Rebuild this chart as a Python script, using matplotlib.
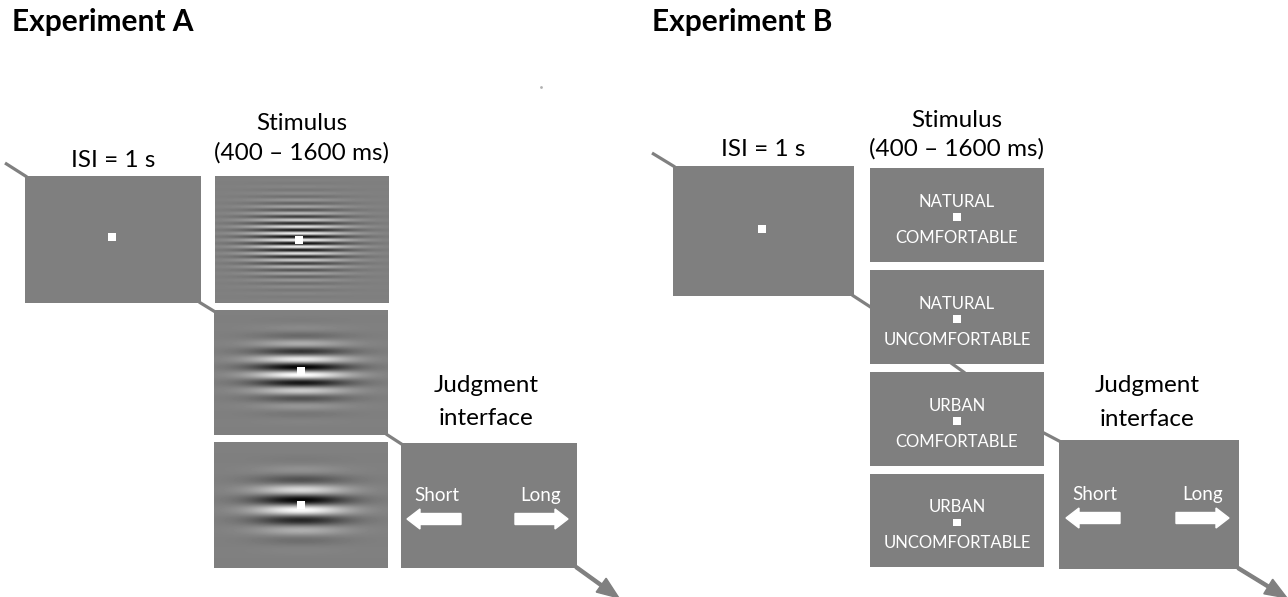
import numpy as np
import matplotlib
matplotlib.use("Agg")
import matplotlib.pyplot as plt
from matplotlib.patches import Rectangle, FancyArrow

# ---- content ----
panel_titles = ["Experiment A", "Experiment B"]
isi_label = "ISI = 1 s"
stim_label = ["Stimulus", "(400 \u2013 1600 ms)"]
judg_label = ["Judgment", "interface"]
resp_labels = ["Short", "Long"]
cond_top = ["NATURAL", "NATURAL", "URBAN", "URBAN"]
cond_bottom = ["COMFORTABLE", "UNCOMFORTABLE", "COMFORTABLE", "UNCOMFORTABLE"]
grating_periods = [6.7, 16.0, 21.0]       # px per cycle
grating_sigma_x = [34.0, 33.0, 32.0]
grating_sigma_y = [22.0, 19.0, 18.0]
grating_contrast = [0.85, 1.0, 1.0]
grating_phase = [0.0, -np.pi / 2, -np.pi / 2]

W, H = 1288, 597
GRAY = "#7f7f7f"
LINE = "#808080"
FONT = "Lato"
FS_LABEL = 17.5
FS_WHITE = 12
FS_RESP = 13.5

fig = plt.figure(figsize=(W / 100, H / 100), dpi=100)
ax = fig.add_axes([0, 0, 1, 1])
ax.set_xlim(0, W)
ax.set_ylim(H, 0)
ax.axis("off")


def box(x0, y0, x1, y1):
    ax.add_patch(Rectangle((x0, y0), x1 - x0, y1 - y0, facecolor=GRAY,
                           edgecolor="none", zorder=2))


def fix(cx, cy, s=8):
    ax.add_patch(Rectangle((cx - s / 2, cy - s / 2), s, s, facecolor="white",
                           edgecolor="none", zorder=5))


def seg(p, q):
    ax.plot([p[0], q[0]], [p[1], q[1]], color=LINE, lw=2.3,
            solid_capstyle="butt", zorder=1)


def gabor(x0, y0, x1, y1, period, sx, sy, con, phase, cx, cy):
    xs = np.arange(x0, x1) + 0.5
    ys = np.arange(y0, y1) + 0.5
    X, Y = np.meshgrid(xs - cx, ys - cy)
    env = np.exp(-(X ** 2) / (2 * sx ** 2) - (Y ** 2) / (2 * sy ** 2))
    img = 0.5 + 0.5 * con * np.cos(2 * np.pi * Y / period + phase) * env
    img = np.clip(img, 0, 1)
    ax.imshow(img, cmap="gray", vmin=0, vmax=1, extent=(x0, x1, y1, y0),
              origin="upper", interpolation="bilinear", zorder=3,
              aspect="auto")


def judgment(x0, y0, x1, y1, sx, lx, base, ay, ltip, ltail, rtail, rtip):
    box(x0, y0, x1, y1)
    ax.text(sx, base, resp_labels[0], color="white", fontsize=FS_RESP,
            family=FONT, ha="center", va="baseline", zorder=6)
    ax.text(lx, base, resp_labels[1], color="white", fontsize=FS_RESP,
            family=FONT, ha="center", va="baseline", zorder=6)
    ax.add_patch(FancyArrow(ltail, ay, ltip - ltail, 0, width=11,
                            head_width=20, head_length=13,
                            length_includes_head=True, color="white",
                            zorder=6))
    ax.add_patch(FancyArrow(rtail, ay, rtip - rtail, 0, width=11,
                            head_width=20, head_length=13,
                            length_includes_head=True, color="white",
                            zorder=6))


def end_arrow(p, q):
    ax.add_patch(FancyArrow(p[0], p[1], q[0] - p[0], q[1] - p[1], width=3,
                            head_width=17, head_length=22,
                            length_includes_head=True, color=LINE,
                            zorder=1, clip_on=False))


TXT = dict(family=FONT, color="black", ha="center", va="baseline",
           fontsize=FS_LABEL)

# ================= Experiment A =================
ax.text(12, 31, panel_titles[0], family=FONT, fontweight="bold",
        fontsize=21.5, color="black", ha="left", va="baseline")
seg((5, 163), (27, 177))
box(25, 176, 201, 303)
fix(112, 237)
ax.text(113, 167, isi_label, **TXT)
ax.text(302, 130, stim_label[0], **TXT)
ax.text(302, 160, stim_label[1], **TXT)

stim_boxes_a = [(215, 176, 389, 303), (214, 310, 388, 435), (214, 442, 388, 568)]
stim_centres_a = [(299, 240), (301, 371), (301, 505)]
for i, (b, c) in enumerate(zip(stim_boxes_a, stim_centres_a)):
    box(*b)
    gabor(*b, grating_periods[i], grating_sigma_x[i], grating_sigma_y[i],
          grating_contrast[i], grating_phase[i], *c)
    fix(*c)
seg((199, 302), (217, 313))
seg((386, 434), (403, 445))
ax.text(486, 392, judg_label[0], **TXT)
ax.text(486, 425, judg_label[1], **TXT)
judgment(401, 443, 577, 568, 437, 541, 501, 519, 407, 461, 515, 568)
end_arrow((576, 567), (619, 598))

# speck
ax.plot([541], [87], marker="o", ms=2, color="#b0b0b0", mec="none")

# ================= Experiment B =================
ax.text(652, 31, panel_titles[1], family=FONT, fontweight="bold",
        fontsize=21.5, color="black", ha="left", va="baseline")
seg((652, 153), (675, 167))
box(673, 166, 854, 296)
fix(762, 229)
ax.text(763, 156, isi_label, **TXT)
ax.text(957, 127, stim_label[0], **TXT)
ax.text(957, 156, stim_label[1], **TXT)

stim_boxes_b = [(870, 168, 1044, 262), (870, 270, 1044, 364),
                (870, 372, 1044, 466), (870, 474, 1044, 567)]
seg((852, 295), (872, 308))
seg((944, 358), (965, 373))
seg((1042, 432), (1061, 442))
for i, b in enumerate(stim_boxes_b):
    box(*b)
    cy = (b[1] + b[3]) / 2
    fix(957, cy + 2, 7.5)
    ax.text(957, cy - 8, cond_top[i], color="white", fontsize=FS_WHITE,
            family=FONT, ha="center", va="baseline", zorder=6)
    ax.text(957, cy + 28, cond_bottom[i], color="white", fontsize=FS_WHITE,
            family=FONT, ha="center", va="baseline", zorder=6)

ax.text(1147, 392, judg_label[0], **TXT)
ax.text(1147, 426, judg_label[1], **TXT)
judgment(1059, 440, 1239, 569, 1095, 1203, 500, 518, 1066, 1120, 1176, 1229)
end_arrow((1238, 568), (1287, 598))

fig.savefig("out.png", dpi=100)
